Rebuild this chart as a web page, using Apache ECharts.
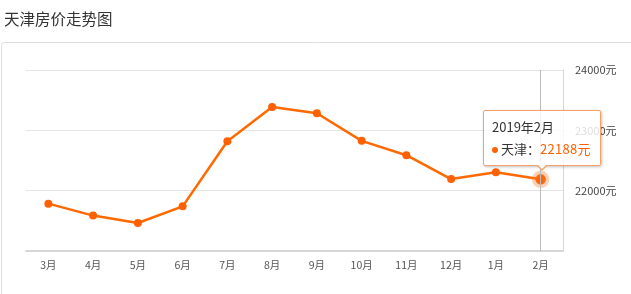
<!DOCTYPE html>
<html>
<head>
<meta charset="utf-8">
<script src="https://cdn.jsdelivr.net/npm/echarts@6/dist/echarts.min.js"></script>
<style>
  html, body { margin: 0; padding: 0; background: #fff; }
  #chart { width: 631px; height: 294px; }
</style>
</head>
<body>
<div id="chart"></div>
<script>
const title = '天津房价走势图';
const seriesName = '天津';
const categories = ['3月','4月','5月','6月','7月','8月','9月','10月','11月','12月','1月','2月'];
const tipLabels = ['2018年3月','2018年4月','2018年5月','2018年6月','2018年7月','2018年8月','2018年9月','2018年10月','2018年11月','2018年12月','2019年1月','2019年2月'];
const prices = [21785, 21587, 21464, 21740, 22820, 23388, 23283, 22826, 22588, 22192, 22307, 22188];
const yMin = 21000, yMax = 24000, yStep = 1000;

const chart = echarts.init(document.getElementById('chart'), null, { renderer: 'canvas' });
const font = '"Noto Sans CJK SC", "Microsoft YaHei", sans-serif';
const arrowHtml =
  '<div style="position:absolute;left:50%;bottom:-6px;margin-left:-6px;width:0;height:0;' +
  'border-left:6px solid transparent;border-right:6px solid transparent;border-top:6px solid #f5a26a;"></div>' +
  '<div style="position:absolute;left:50%;bottom:-4px;margin-left:-5px;width:0;height:0;' +
  'border-left:5px solid transparent;border-right:5px solid transparent;border-top:5px solid #fff;"></div>';
chart.setOption({
  animation: false,
  textStyle: { fontFamily: font },
  title: { text: title, left: -1, top: 6, textStyle: { fontSize: 15.5, fontWeight: 'normal', color: '#333', fontFamily: font } },
  graphic: [{
    type: 'rect', left: 1, top: 42, z: -1, silent: true,
    shape: { width: 640, height: 270, r: 3 },
    style: { fill: '#fff', stroke: '#dcdcdc', lineWidth: 1 }
  }],
  grid: { left: 26, right: 68, top: 70, bottom: 43 },
  tooltip: {
    trigger: 'axis',
    alwaysShowContent: true,
    transitionDuration: 0,
    backgroundColor: 'rgba(255,255,255,0.82)',
    borderColor: '#f5a26a',
    borderWidth: 1,
    padding: [5, 9, 5, 8],
    extraCssText: 'box-shadow: 1px 1px 3px rgba(0,0,0,0.25); border-radius: 2px; overflow: visible;',
    axisPointer: { type: 'line', lineStyle: { color: '#bbb', width: 1, type: 'solid' } },
    position: function (point, params, dom, rect, size) {
      return [point[0] - size.contentSize[0] / 2 + 1, point[1] - size.contentSize[1] - 13];
    },
    formatter: function (params) {
      const p = params[0];
      return '<div style="font-family:' + font.replace(/"/g, "'") + ';font-size:13px;line-height:22px;color:#333;">' +
        tipLabels[p.dataIndex] + '<br/>' +
        '<span style="display:inline-block;width:6px;height:6px;border-radius:3px;background:#ff6000;margin-right:3px;vertical-align:middle;"></span>' +
        seriesName + '：<span style="color:#ff6000;letter-spacing:0.3px;">' + p.value + '元</span></div>' + arrowHtml;
    }
  },
  xAxis: {
    type: 'category',
    data: categories,
    boundaryGap: true,
    axisLine: { lineStyle: { color: '#d6d6d6', width: 2 } },
    axisTick: { alignWithLabel: true, length: 4, lineStyle: { color: '#ddd' } },
    axisLabel: { color: '#555', fontSize: 10.5, margin: 9 }
  },
  yAxis: {
    type: 'value',
    position: 'right',
    min: yMin, max: yMax, interval: yStep,
    axisLine: { show: true, lineStyle: { color: '#d6d6d6', width: 1 } },
    axisTick: { show: false },
    splitLine: { lineStyle: { color: '#e3e3e3' } },
    axisLabel: { color: '#444', fontSize: 11, margin: 12, showMinLabel: false, formatter: function (v) { return v + '元'; } }
  },
  series: [{
    name: seriesName,
    type: 'line',
    data: prices,
    symbol: 'circle',
    symbolSize: 8,
    showAllSymbol: true,
    lineStyle: { color: '#ff6000', width: 2.5 },
    itemStyle: { color: '#ff6000' },
    emphasis: {
      scale: 1.3,
      itemStyle: { color: '#ff6000', borderColor: 'rgba(255,120,40,0.35)', borderWidth: 7 }
    }
  }]
});
setTimeout(function () {
  chart.dispatchAction({ type: 'showTip', seriesIndex: 0, dataIndex: prices.length - 1 });
}, 50);
</script>
</body>
</html>
